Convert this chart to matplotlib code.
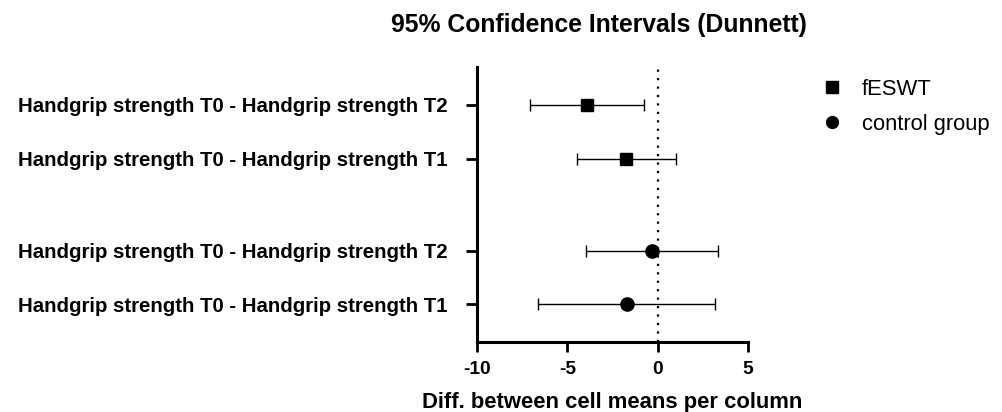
import matplotlib
matplotlib.use("Agg")
import matplotlib.pyplot as plt
from matplotlib.lines import Line2D

plt.rcParams['font.family'] = ['Liberation Sans', 'DejaVu Sans']

# Data
row_labels = ["Handgrip strength T0 - Handgrip strength T2",
              "Handgrip strength T0 - Handgrip strength T1",
              "Handgrip strength T0 - Handgrip strength T2",
              "Handgrip strength T0 - Handgrip strength T1"]
groups = ["fESWT", "fESWT", "control group", "control group"]
diff_means = [-3.92, -1.75, -0.33, -1.71]
ci_low = [-7.09, -4.47, -3.99, -6.65]
ci_high = [-0.73, 1.03, 3.35, 3.20]
xticks = [-10, -5, 0, 5]

# layout positions (top to bottom)
ypos = [4.39, 3.39, 1.69, 0.70]
markers = {"fESWT": "s", "control group": "o"}

fig = plt.figure(figsize=(10.02, 4.12), dpi=100)
ax = fig.add_axes([477/1002, 70/412, 271/1002, 275/412])

for y, m, lo, hi, g in zip(ypos, diff_means, ci_low, ci_high, groups):
    ax.errorbar([m], [y], xerr=[[m - lo], [hi - m]], fmt=markers[g], color='black',
                ecolor='black', elinewidth=1.0, capsize=4, capthick=1.0,
                markersize=9 if g == "fESWT" else 9.5, zorder=3)

ax.axvline(0, color='black', linestyle=(0, (1, 2.8)), linewidth=1.6, zorder=1)

ax.set_xlim(-10, 5)
ax.set_ylim(0, 5.09)
ax.set_xticks(xticks)
ax.set_xticklabels([str(t) for t in xticks], fontsize=13.8, fontweight='bold')
ax.set_yticks(ypos)
ax.set_yticklabels(row_labels, fontsize=14.7, fontweight='bold')
ax.tick_params(axis='y', length=8, width=2, pad=13)
ax.tick_params(axis='x', length=7.5, width=2, pad=6)
for s in ['top', 'right']:
    ax.spines[s].set_visible(False)
for s in ['left', 'bottom']:
    ax.spines[s].set_linewidth(2.2)

ax.set_xlabel("Diff. between cell means per column", fontsize=15.8, fontweight='bold', labelpad=10)
fig.text(599/1002, 1 - 25/412, "95% Confidence Intervals (Dunnett)", fontsize=17.85,
         fontweight='bold', ha='center', va='center')

handles = [Line2D([], [], marker='s', color='black', linestyle='none', markersize=8.5),
           Line2D([], [], marker='o', color='black', linestyle='none', markersize=8.5)]
fig.legend(handles, ["fESWT", "control group"], loc='upper left',
           bbox_to_anchor=(812/1002, 1 - 70/412), frameon=False, fontsize=15.8,
           handletextpad=0.86, labelspacing=0.64, handlelength=1.0, borderaxespad=0)

fig.savefig("out.png", dpi=100)
